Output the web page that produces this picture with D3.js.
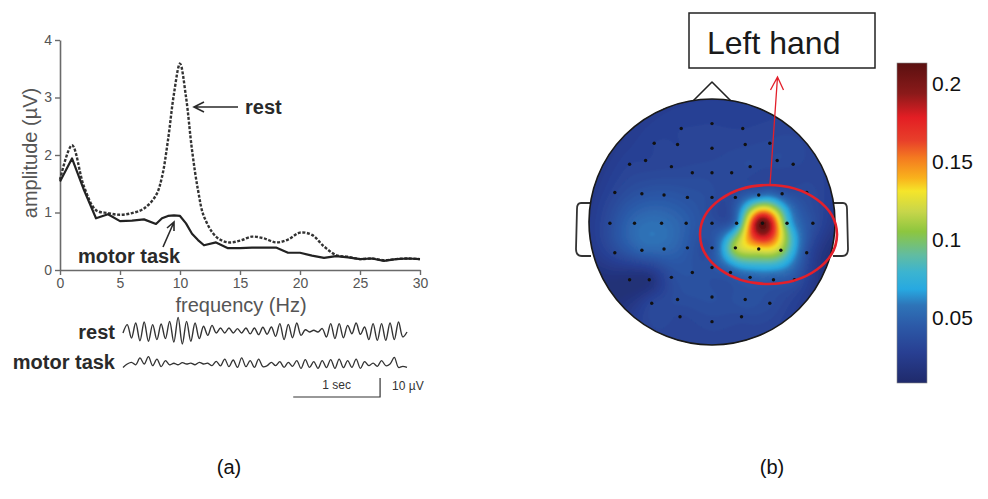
<!DOCTYPE html>
<html>
<head>
<meta charset="utf-8">
<script src="https://cdn.jsdelivr.net/npm/d3@7"></script>
<style>
  body { margin: 0; background: #fff; }
  svg { display: block; }
  text { font-family: "Liberation Sans", Arial, sans-serif; }
</style>
</head>
<body>
<svg id="fig" width="988" height="499"></svg>
<script>
// ---------- data: amplitude spectrum (a) ----------
const freqs = [0,1,2,3,4,5,6,7,8,8.5,9,9.5,10,10.5,11,11.5,12,13,14,15,16,17,18,19,20,21,22,23,24,25,26,27,28,29,30];
const restAmp = [1.57,2.17,1.45,1.04,0.99,0.96,0.99,1.07,1.30,1.62,2.26,3.07,3.59,3.01,2.09,1.39,0.93,0.58,0.48,0.51,0.58,0.55,0.48,0.53,0.65,0.61,0.41,0.26,0.23,0.19,0.20,0.17,0.19,0.20,0.19];
const motorAmp = [1.54,1.94,1.39,0.90,0.97,0.85,0.86,0.88,0.80,0.90,0.94,0.95,0.94,0.81,0.63,0.52,0.43,0.48,0.38,0.38,0.39,0.39,0.39,0.30,0.30,0.25,0.21,0.24,0.22,0.19,0.20,0.16,0.19,0.20,0.19];
const xTicks = [0,5,10,15,20,25,30];
const yTicks = [0,1,2,3,4];

// raw EEG traces (µV), evenly sampled over the shown 3.27 s
const traceSeconds = 3.27;
const restTrace = [-0.5,3.9,-3.2,4.7,-4.6,5.3,-4.9,3.9,-4.0,4.2,-3.5,5.6,-5.3,7.7,-6.3,5.6,-4.9,4.7,-3.5,3.0,-1.8,3.5,-0.5,2.1,-0.5,2.1,-0.5,1.8,-0.5,2.1,-1.0,2.1,-1.4,2.5,
  -1.2,2.6,-2.3,4.4,-4.0,4.0,-3.0,4.7,-1.8,1.2,0,0.9,0,1.8,-2.6,4.4,-3.5,4.4,-3.0,3.5,-0.9,4.7,-1.2,2.6,-4.0,4.4,-4.4,4.4,-4.4,4.7,-4.0,5.3,-2.6,0];
const motorTrace = [-1.8,0,0.9,-0.4,3.2,0,3.9,-0.9,2.6,-1.4,1.8,-0.4,0.4,-0.4,0.7,0,0.5,-0.4,0.9,0,0.4,-0.9,1.4,-1.0,2.6,-1.4,2.1,-1.8,3.2,-1.4,1.8,-1.8,2.6,-1.4,
  -0.9,0.9,-0.9,1.2,-1.8,0.9,-1.2,1.8,-2.3,2.3,-1.8,1.2,-2.3,1.8,-1.9,2.3,-2.3,2.6,-1.9,1.8,-1.8,2.6,-2.3,1.2,-0.9,0.5,-1.2,1.8,-0.9,0,3.5,-1.8,-1.2,-1.8];

// ---------- data: topography (b) ----------
// electrode positions in head units (centre 0, radius 1), and values
const elecX = [-0.25,0,0.25,
  -0.47,-0.28,0,0.27,0.47,
  -0.67,-0.54,-0.33,-0.16,0,0.16,0.31,0.53,0.66,
  -0.79,-0.57,-0.39,-0.20,0,0.19,0.38,0.57,0.77,
  -0.83,-0.63,-0.41,-0.21,0,0.20,0.41,0.61,0.82,
  -0.79,-0.57,-0.39,-0.20,0,0.19,0.38,0.56,0.77,
  -0.67,-0.51,-0.33,-0.16,0,0.15,0.31,0.50,0.67,
  -0.49,-0.28,0,0.27,0.47,
  -0.26,0,0.24];
const elecY = [-0.76,-0.80,-0.76,
  -0.64,-0.63,-0.60,-0.63,-0.64,
  -0.47,-0.50,-0.45,-0.40,-0.40,-0.40,-0.45,-0.50,-0.47,
  -0.24,-0.23,-0.22,-0.20,-0.20,-0.20,-0.22,-0.23,-0.24,
  0.01,0.01,0.01,0.01,0.01,0.01,0.01,0.01,0.01,
  0.25,0.23,0.22,0.21,0.21,0.21,0.22,0.23,0.25,
  0.47,0.47,0.45,0.41,0.37,0.41,0.45,0.47,0.47,
  0.66,0.63,0.61,0.63,0.66,
  0.77,0.81,0.77];
const elecVal = [0.030,0.030,0.030,
  0.030,0.030,0.031,0.032,0.033,
  0.030,0.030,0.032,0.034,0.034,0.034,0.035,0.035,0.033,
  0.032,0.040,0.042,0.040,0.036,0.038,0.052,0.042,0.035,
  0.036,0.052,0.055,0.047,0.038,0.058,0.215,0.085,0.038,
  0.034,0.050,0.052,0.044,0.040,0.112,0.128,0.110,0.038,
  0.014,0.016,0.036,0.040,0.040,0.046,0.048,0.045,0.040,
  0.032,0.036,0.038,0.040,0.036,
  0.032,0.034,0.034];

// colour bar
const cbVals = [0.0078,0.0273,0.0448,0.0578,0.0682,0.0792,0.0903,0.1052,0.1182,0.1312,0.1396,0.1526,0.1636,0.1786,0.194,0.2136];
const cbColors = ["#1f2a6b","#283f92","#2c5aa8","#2e74b8","#27a9e1","#3cb4d0","#62bca0","#8dc63f","#c8d64a","#f5e52a","#f9b21c","#f47a20","#e8402a","#e31e24","#8b1a1a","#5a1010"];
const cbTicks = [0.05,0.1,0.15,0.2];

const svg = d3.select("#fig");
svg.append("rect").attr("width",988).attr("height",499).attr("fill","#fff");

// ================= panel (a) =================
const x = d3.scaleLinear().domain([0,30]).range([60,420]);
const y = d3.scaleLinear().domain([0,4]).range([270,40]);
const axisCol = "#6a6a6a";

const gx = svg.append("g").attr("transform","translate(0,270)")
  .call(d3.axisBottom(x).tickValues(xTicks).tickFormat(d3.format("d")).tickSize(5).tickSizeOuter(0).tickPadding(3));
const gy = svg.append("g").attr("transform","translate(60,0)")
  .call(d3.axisLeft(y).tickValues(yTicks).tickFormat(d3.format("d")).tickSize(5).tickSizeOuter(0).tickPadding(3));
[gx, gy].forEach(g => {
  g.select(".domain").attr("stroke",axisCol).attr("stroke-width",1.6);
  g.selectAll(".tick line").attr("stroke",axisCol).attr("stroke-width",1.4);
  g.selectAll(".tick text").attr("fill","#555").attr("font-size",14)
    .attr("font-family","Liberation Sans, Arial, sans-serif");
});

svg.append("text").attr("x",241).attr("y",312).attr("text-anchor","middle")
  .attr("font-size",20).attr("fill","#555").text("frequency (Hz)");
svg.append("text").attr("transform","translate(37,153) rotate(-90)").attr("text-anchor","middle")
  .attr("font-size",20).attr("fill","#555").text("amplitude (µV)");

const restLine = d3.line().x((d,i) => x(freqs[i])).y(d => y(d)).curve(d3.curveCatmullRom.alpha(0.5));
const motorLine = d3.line().x((d,i) => x(freqs[i])).y(d => y(d));

svg.append("path").datum(restAmp).attr("d",restLine).attr("fill","none")
  .attr("stroke","#333").attr("stroke-width",2.4).attr("stroke-dasharray","3,1.6");
svg.append("path").datum(motorAmp).attr("d",motorLine).attr("fill","none")
  .attr("stroke","#222").attr("stroke-width",2.2).attr("stroke-linejoin","round");

// annotations
const ink = "#2a2a2a";
svg.append("path").attr("d","M238,107 L195,107 M204,102 L194,107 L204,112")
  .attr("fill","none").attr("stroke",ink).attr("stroke-width",1.6);
svg.append("text").attr("x",245).attr("y",114).attr("font-size",20).attr("font-weight","bold")
  .attr("fill",ink).text("rest");
svg.append("path").attr("d","M163,247 L174,222 M167,228 L174,222 L174,231")
  .attr("fill","none").attr("stroke",ink).attr("stroke-width",1.6);
svg.append("text").attr("x",78).attr("y",263).attr("font-size",20).attr("font-weight","bold")
  .attr("fill",ink).text("motor task");

// raw traces
const tScale = d3.scaleLinear().domain([0,traceSeconds]).range([123,407]);
const uv = d3.scaleLinear().domain([0,10]).range([0,19]);
function traceLine(vals, base) {
  const dt = traceSeconds / (vals.length - 1);
  return d3.line().x((d,i) => tScale(i*dt)).y(d => base - uv(d)).curve(d3.curveCatmullRom.alpha(0.5))(vals);
}
svg.append("path").attr("d",traceLine(restTrace,332)).attr("fill","none").attr("stroke","#333").attr("stroke-width",1.4);
svg.append("path").attr("d",traceLine(motorTrace,364)).attr("fill","none").attr("stroke","#333").attr("stroke-width",1.3);
svg.append("text").attr("x",115).attr("y",339).attr("text-anchor","end").attr("font-size",20)
  .attr("font-weight","bold").attr("fill",ink).text("rest");
svg.append("text").attr("x",115).attr("y",369).attr("text-anchor","end").attr("font-size",20)
  .attr("font-weight","bold").attr("fill",ink).text("motor task");

// scale bars
const t0 = 1.96;
svg.append("path")
  .attr("d",`M${tScale(t0)},397 H${tScale(t0+1)} V${397-uv(10)}`)
  .attr("fill","none").attr("stroke","#333").attr("stroke-width",1.2);
svg.append("text").attr("x",(tScale(t0)+tScale(t0+1))/2).attr("y",389).attr("text-anchor","middle")
  .attr("font-size",12).attr("fill","#333").text("1 sec");
svg.append("text").attr("x",tScale(t0+1)+12).attr("y",390)
  .attr("font-size",12).attr("fill","#333").text("10 µV");

// ================= panel (b) =================
const head = {cx:712, cy:222, r:123};
const hx = d3.scaleLinear().domain([-1,1]).range([head.cx-head.r, head.cx+head.r]);
const hy = d3.scaleLinear().domain([-1,1]).range([head.cy-head.r, head.cy+head.r]);
const color = d3.scaleLinear().domain(cbVals).range(cbColors).interpolate(d3.interpolateRgb).clamp(true);

// nose and ears
svg.append("path").attr("d","M690,104 L712,82 L734,104").attr("fill","#fff")
  .attr("stroke","#222").attr("stroke-width",1.6).attr("stroke-linejoin","round");
svg.append("path").attr("d","M590,203 L581,203 Q577,203 577,209 L576,249 Q576,256 582,256 L591,256")
  .attr("fill","#fff").attr("stroke","#333").attr("stroke-width",1.8);
svg.append("path").attr("d","M834,203 L843,203 Q847,203 847,209 L848,249 Q848,256 842,256 L833,256")
  .attr("fill","#fff").attr("stroke","#333").attr("stroke-width",1.8);

// biharmonic spline interpolation of electrode values (like griddata v4)
const n = elecVal.length;
const green = d => d > 0 ? d*d*(Math.log(d) - 1) : 0;
const A = [];
for (let i = 0; i < n; i++) {
  A.push([]);
  for (let j = 0; j < n; j++) A[i].push(green(Math.hypot(elecX[i]-elecX[j], elecY[i]-elecY[j])));
}
function solve(M, b) {
  const m = M.map((r,i) => r.concat([b[i]]));
  const N = b.length;
  for (let c = 0; c < N; c++) {
    let p = c;
    for (let r = c+1; r < N; r++) if (Math.abs(m[r][c]) > Math.abs(m[p][c])) p = r;
    [m[c], m[p]] = [m[p], m[c]];
    for (let r = c+1; r < N; r++) {
      const f = m[r][c] / m[c][c];
      for (let k = c; k <= N; k++) m[r][k] -= f*m[c][k];
    }
  }
  const w = new Array(N).fill(0);
  for (let r = N-1; r >= 0; r--) {
    let s = m[r][N];
    for (let k = r+1; k < N; k++) s -= m[r][k]*w[k];
    w[r] = s / m[r][r];
  }
  return w;
}
const w = solve(A, elecVal);

const step = 2;
const nx = Math.ceil(2*head.r/step) + 2, ny = nx;
const x0 = head.cx - head.r - step, y0 = head.cy - head.r - step;
const grid = new Float64Array(nx*ny);
for (let j = 0; j < ny; j++) {
  for (let i = 0; i < nx; i++) {
    const u = hx.invert(x0 + i*step), v = hy.invert(y0 + j*step);
    let s = 0;
    for (let k = 0; k < n; k++) s += w[k]*green(Math.hypot(u-elecX[k], v-elecY[k]));
    grid[i + j*nx] = s;
  }
}
const dl = 0.0025;
const levels = d3.range(-0.05, 0.25, dl);
const contours = d3.contours().size([nx, ny]).thresholds(levels)(grid);
const proj = d3.geoPath(d3.geoIdentity().scale(step).translate([x0 - step/2, y0 - step/2]));

const defs = svg.append("defs");
defs.append("clipPath").attr("id","headClip").append("circle")
  .attr("cx",head.cx).attr("cy",head.cy).attr("r",head.r);
defs.append("filter").attr("id","soft").append("feGaussianBlur").attr("stdDeviation",0.8);

svg.append("circle").attr("cx",head.cx).attr("cy",head.cy).attr("r",head.r).attr("fill",color(0.03));
svg.append("g").attr("clip-path","url(#headClip)")
  .append("g").attr("filter","url(#soft)")
  .selectAll("path").data(contours).join("path")
  .attr("d",proj)
  .attr("fill",d => color(d.value + dl/2));
svg.append("circle").attr("cx",head.cx).attr("cy",head.cy).attr("r",head.r)
  .attr("fill","none").attr("stroke","#1a1a1a").attr("stroke-width",1.6);

svg.append("g").selectAll("circle").data(elecVal).join("circle")
  .attr("cx",(d,i) => hx(elecX[i])).attr("cy",(d,i) => hy(elecY[i])).attr("r",1.7)
  .attr("fill","#111");

// highlight ellipse and arrow
const red = "#e3202b";
svg.append("ellipse").attr("cx",768.5).attr("cy",234.5).attr("rx",68.5).attr("ry",49.5)
  .attr("fill","none").attr("stroke",red).attr("stroke-width",2.6);
svg.append("path").attr("d","M770,185 L777.5,77 M770.5,90 L777.5,77 L783.5,90")
  .attr("fill","none").attr("stroke",red).attr("stroke-width",1.3);

// label box
svg.append("rect").attr("x",689).attr("y",13).attr("width",186).attr("height",55)
  .attr("fill","#fff").attr("stroke","#222").attr("stroke-width",1.5);
svg.append("text").attr("x",707).attr("y",54).attr("font-size",32)
  .attr("font-family","Noto Sans, sans-serif").attr("fill","#1a1a1a").text("Left hand");

// colour bar
const cbY = d3.scaleLinear().domain([cbVals[0], cbVals[cbVals.length-1]]).range([383,63]);
const grad = defs.append("linearGradient").attr("id","cbGrad")
  .attr("x1",0).attr("y1",1).attr("x2",0).attr("y2",0);
grad.selectAll("stop").data(cbVals).join("stop")
  .attr("offset",d => (d - cbVals[0])/(cbVals[cbVals.length-1] - cbVals[0]))
  .attr("stop-color",(d,i) => cbColors[i]);
svg.append("rect").attr("x",897).attr("y",63).attr("width",30).attr("height",320)
  .attr("fill","url(#cbGrad)").attr("stroke","#888").attr("stroke-width",0.6);
const cbAxis = svg.append("g").attr("transform","translate(927,0)")
  .call(d3.axisRight(cbY).tickValues(cbTicks).tickSize(0).tickPadding(5).tickFormat(d3.format("")));
cbAxis.select(".domain").remove();
cbAxis.selectAll(".tick text").attr("font-size",21).attr("fill","#111")
  .attr("font-family","Liberation Sans, Arial, sans-serif");

// panel letters
svg.append("text").attr("x",229).attr("y",474).attr("text-anchor","middle").attr("font-size",20)
  .attr("font-family","Liberation Serif, Times New Roman, serif").attr("fill","#111").text("(a)");
svg.append("text").attr("x",772).attr("y",474).attr("text-anchor","middle").attr("font-size",20)
  .attr("font-family","Liberation Serif, Times New Roman, serif").attr("fill","#111").text("(b)");
</script>
</body>
</html>
